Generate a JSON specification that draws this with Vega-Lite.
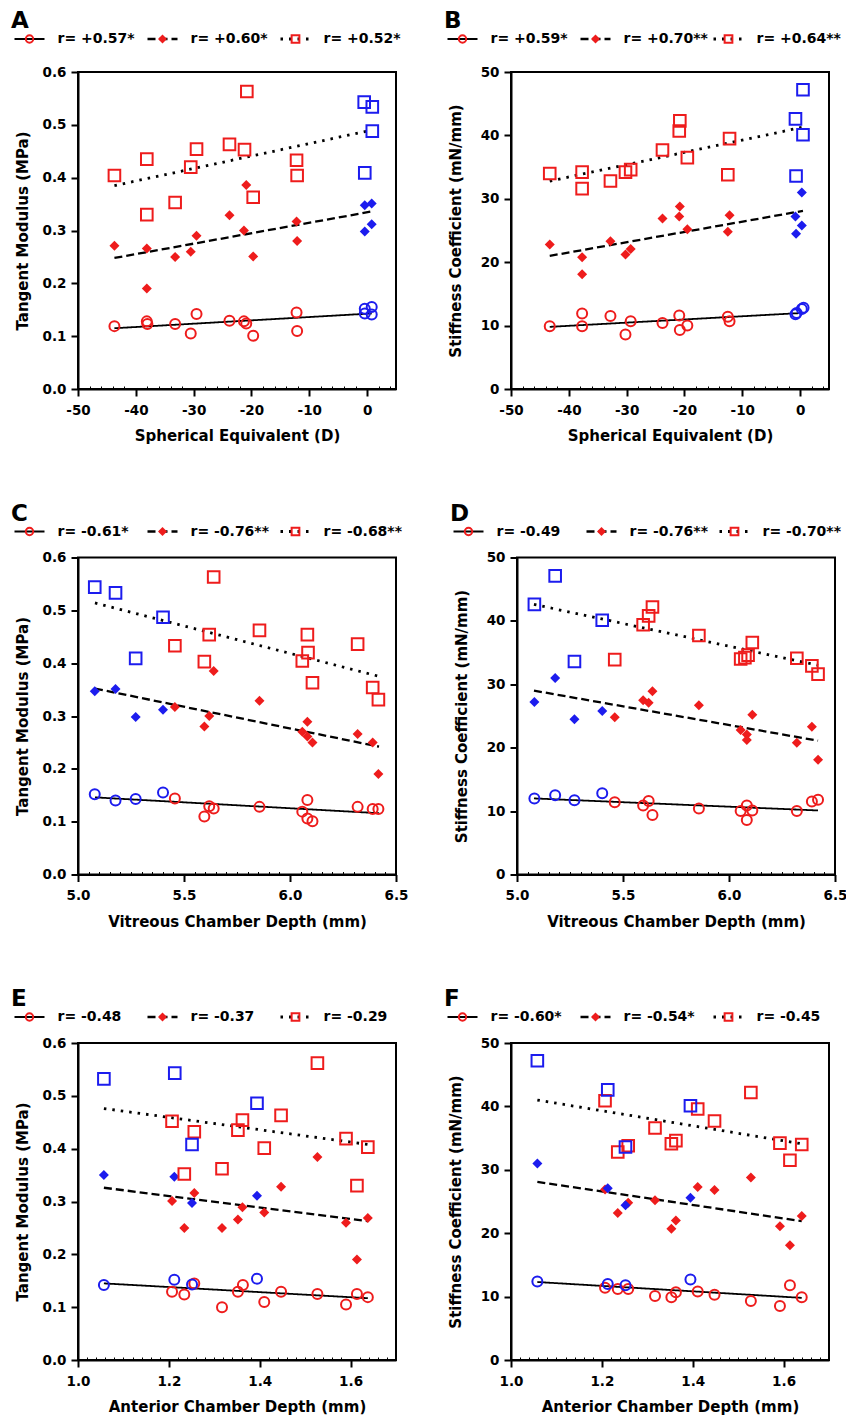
{
"$schema": "https://vega.github.io/schema/vega-lite/v6.json",
"background": "white",
"padding": {"left": 10, "top": 10, "right": 0, "bottom": 0},
"config": {
 "font": "DejaVu Sans",
 "view": {"stroke": "black", "strokeWidth": 2},
 "axis": {"domainColor": "black", "domainWidth": 2, "tickColor": "black", "tickWidth": 2, "tickSize": 7, "labelFont": "DejaVu Sans", "labelFontWeight": "bold", "labelFontSize": 13.5, "labelColor": "black", "labelPadding": 5, "titleFont": "DejaVu Sans", "titleFontWeight": "bold", "titleFontSize": 15, "titleColor": "black", "grid": false, "labelFlush": false, "labelOverlap": false},
 "axisX": {"labelPadding": 7, "titlePadding": 12},
 "title": {"font": "DejaVu Sans", "fontWeight": "bold", "fontSize": 23, "color": "black", "anchor": "start", "frame": "group"},
 "text": {"font": "DejaVu Sans", "fontWeight": "bold", "fontSize": 14, "color": "black"}
},
"datasets": {
"leg": [
 {"p":"A","s":"c","label":"r= +0.57*"},{"p":"A","s":"d","label":"r= +0.60*"},{"p":"A","s":"q","label":"r= +0.52*"},
 {"p":"B","s":"c","label":"r= +0.59*"},{"p":"B","s":"d","label":"r= +0.70**"},{"p":"B","s":"q","label":"r= +0.64**"},
 {"p":"C","s":"c","label":"r= -0.61*"},{"p":"C","s":"d","label":"r= -0.76**"},{"p":"C","s":"q","label":"r= -0.68**"},
 {"p":"D","s":"c","label":"r= -0.49"},{"p":"D","s":"d","label":"r= -0.76**"},{"p":"D","s":"q","label":"r= -0.70**"},
 {"p":"E","s":"c","label":"r= -0.48"},{"p":"E","s":"d","label":"r= -0.37"},{"p":"E","s":"q","label":"r= -0.29"},
 {"p":"F","s":"c","label":"r= -0.60*"},{"p":"F","s":"d","label":"r= -0.54*"},{"p":"F","s":"q","label":"r= -0.45"}
],
"lines": [
 {"p":"A","s":"c","x":-43.7,"y":0.115},{"p":"A","s":"c","x":0.8,"y":0.143},
 {"p":"A","s":"d","x":-43.7,"y":0.248},{"p":"A","s":"d","x":0.8,"y":0.336},
 {"p":"A","s":"q","x":-43.7,"y":0.385},{"p":"A","s":"q","x":0.8,"y":0.49},
 {"p":"B","s":"c","x":-43.3,"y":9.8},{"p":"B","s":"c","x":0.5,"y":12.0},
 {"p":"B","s":"d","x":-43.3,"y":21.0},{"p":"B","s":"d","x":0.5,"y":28.1},
 {"p":"B","s":"q","x":-43.3,"y":32.8},{"p":"B","s":"q","x":0.5,"y":41.3},
 {"p":"C","s":"c","x":5.08,"y":0.146},{"p":"C","s":"c","x":6.42,"y":0.116},
 {"p":"C","s":"d","x":5.08,"y":0.352},{"p":"C","s":"d","x":6.42,"y":0.242},
 {"p":"C","s":"q","x":5.08,"y":0.514},{"p":"C","s":"q","x":6.42,"y":0.375},
 {"p":"D","s":"c","x":5.08,"y":12.0},{"p":"D","s":"c","x":6.42,"y":10.1},
 {"p":"D","s":"d","x":5.08,"y":29.0},{"p":"D","s":"d","x":6.42,"y":21.1},
 {"p":"D","s":"q","x":5.08,"y":42.6},{"p":"D","s":"q","x":6.42,"y":33.0},
 {"p":"E","s":"c","x":1.057,"y":0.145},{"p":"E","s":"c","x":1.638,"y":0.117},
 {"p":"E","s":"d","x":1.057,"y":0.326},{"p":"E","s":"d","x":1.638,"y":0.263},
 {"p":"E","s":"q","x":1.057,"y":0.476},{"p":"E","s":"q","x":1.638,"y":0.408},
 {"p":"F","s":"c","x":1.058,"y":12.3},{"p":"F","s":"c","x":1.64,"y":9.8},
 {"p":"F","s":"d","x":1.058,"y":28.1},{"p":"F","s":"d","x":1.64,"y":21.9},
 {"p":"F","s":"q","x":1.058,"y":41.0},{"p":"F","s":"q","x":1.64,"y":34.1}
],
"pts": [
 {"p":"A","s":"c","g":"M","x":-43.7,"y":0.119},{"p":"A","s":"c","g":"M","x":-38.1,"y":0.128},{"p":"A","s":"c","g":"M","x":-38.0,"y":0.123},{"p":"A","s":"c","g":"M","x":-33.2,"y":0.123},{"p":"A","s":"c","g":"M","x":-30.5,"y":0.105},{"p":"A","s":"c","g":"M","x":-29.5,"y":0.142},{"p":"A","s":"c","g":"M","x":-23.8,"y":0.129},{"p":"A","s":"c","g":"M","x":-21.3,"y":0.128},{"p":"A","s":"c","g":"M","x":-20.9,"y":0.124},{"p":"A","s":"c","g":"M","x":-19.7,"y":0.101},{"p":"A","s":"c","g":"M","x":-12.2,"y":0.145},{"p":"A","s":"c","g":"M","x":-12.1,"y":0.110},
 {"p":"A","s":"c","g":"C","x":-0.4,"y":0.152},{"p":"A","s":"c","g":"C","x":0.8,"y":0.155},{"p":"A","s":"c","g":"C","x":-0.4,"y":0.143},{"p":"A","s":"c","g":"C","x":0.8,"y":0.141},
 {"p":"A","s":"d","g":"M","x":-43.7,"y":0.271},{"p":"A","s":"d","g":"M","x":-38.1,"y":0.266},{"p":"A","s":"d","g":"M","x":-38.1,"y":0.190},{"p":"A","s":"d","g":"M","x":-33.2,"y":0.250},{"p":"A","s":"d","g":"M","x":-30.5,"y":0.260},{"p":"A","s":"d","g":"M","x":-29.5,"y":0.290},{"p":"A","s":"d","g":"M","x":-23.8,"y":0.329},{"p":"A","s":"d","g":"M","x":-21.3,"y":0.300},{"p":"A","s":"d","g":"M","x":-20.9,"y":0.386},{"p":"A","s":"d","g":"M","x":-19.7,"y":0.251},{"p":"A","s":"d","g":"M","x":-12.2,"y":0.317},{"p":"A","s":"d","g":"M","x":-12.1,"y":0.280},
 {"p":"A","s":"d","g":"C","x":-0.4,"y":0.348},{"p":"A","s":"d","g":"C","x":0.8,"y":0.351},{"p":"A","s":"d","g":"C","x":-0.4,"y":0.298},{"p":"A","s":"d","g":"C","x":0.8,"y":0.312},
 {"p":"A","s":"q","g":"M","x":-43.7,"y":0.404},{"p":"A","s":"q","g":"M","x":-38.1,"y":0.435},{"p":"A","s":"q","g":"M","x":-38.1,"y":0.330},{"p":"A","s":"q","g":"M","x":-33.2,"y":0.353},{"p":"A","s":"q","g":"M","x":-30.5,"y":0.420},{"p":"A","s":"q","g":"M","x":-29.5,"y":0.454},{"p":"A","s":"q","g":"M","x":-23.8,"y":0.463},{"p":"A","s":"q","g":"M","x":-21.2,"y":0.453},{"p":"A","s":"q","g":"M","x":-20.8,"y":0.563},{"p":"A","s":"q","g":"M","x":-19.7,"y":0.363},{"p":"A","s":"q","g":"M","x":-12.2,"y":0.433},{"p":"A","s":"q","g":"M","x":-12.1,"y":0.404},
 {"p":"A","s":"q","g":"C","x":-0.5,"y":0.543},{"p":"A","s":"q","g":"C","x":0.9,"y":0.534},{"p":"A","s":"q","g":"C","x":0.9,"y":0.488},{"p":"A","s":"q","g":"C","x":-0.4,"y":0.409},

 {"p":"B","s":"c","g":"M","x":-43.3,"y":9.9},{"p":"B","s":"c","g":"M","x":-37.7,"y":11.9},{"p":"B","s":"c","g":"M","x":-37.7,"y":9.9},{"p":"B","s":"c","g":"M","x":-32.8,"y":11.5},{"p":"B","s":"c","g":"M","x":-30.2,"y":8.6},{"p":"B","s":"c","g":"M","x":-29.3,"y":10.7},{"p":"B","s":"c","g":"M","x":-23.8,"y":10.4},{"p":"B","s":"c","g":"M","x":-20.9,"y":11.6},{"p":"B","s":"c","g":"M","x":-20.8,"y":9.3},{"p":"B","s":"c","g":"M","x":-19.5,"y":10.0},{"p":"B","s":"c","g":"M","x":-12.5,"y":11.4},{"p":"B","s":"c","g":"M","x":-12.2,"y":10.7},
 {"p":"B","s":"c","g":"C","x":-0.8,"y":11.8},{"p":"B","s":"c","g":"C","x":-0.6,"y":12.0},{"p":"B","s":"c","g":"C","x":0.3,"y":12.6},{"p":"B","s":"c","g":"C","x":0.6,"y":12.8},
 {"p":"B","s":"d","g":"M","x":-43.3,"y":22.8},{"p":"B","s":"d","g":"M","x":-37.7,"y":20.8},{"p":"B","s":"d","g":"M","x":-37.7,"y":18.1},{"p":"B","s":"d","g":"M","x":-32.8,"y":23.3},{"p":"B","s":"d","g":"M","x":-30.2,"y":21.2},{"p":"B","s":"d","g":"M","x":-29.3,"y":22.1},{"p":"B","s":"d","g":"M","x":-23.8,"y":26.9},{"p":"B","s":"d","g":"M","x":-20.9,"y":27.2},{"p":"B","s":"d","g":"M","x":-20.8,"y":28.8},{"p":"B","s":"d","g":"M","x":-19.5,"y":25.2},{"p":"B","s":"d","g":"M","x":-12.2,"y":27.4},{"p":"B","s":"d","g":"M","x":-12.5,"y":24.8},
 {"p":"B","s":"d","g":"C","x":-0.8,"y":27.2},{"p":"B","s":"d","g":"C","x":-0.7,"y":24.5},{"p":"B","s":"d","g":"C","x":0.3,"y":25.8},{"p":"B","s":"d","g":"C","x":0.3,"y":31.0},
 {"p":"B","s":"q","g":"M","x":-43.3,"y":34.0},{"p":"B","s":"q","g":"M","x":-37.7,"y":34.2},{"p":"B","s":"q","g":"M","x":-37.7,"y":31.6},{"p":"B","s":"q","g":"M","x":-32.8,"y":32.8},{"p":"B","s":"q","g":"M","x":-30.2,"y":34.2},{"p":"B","s":"q","g":"M","x":-29.3,"y":34.6},{"p":"B","s":"q","g":"M","x":-23.8,"y":37.7},{"p":"B","s":"q","g":"M","x":-20.9,"y":40.7},{"p":"B","s":"q","g":"M","x":-20.8,"y":42.3},{"p":"B","s":"q","g":"M","x":-19.5,"y":36.5},{"p":"B","s":"q","g":"M","x":-12.2,"y":39.5},{"p":"B","s":"q","g":"M","x":-12.5,"y":33.8},
 {"p":"B","s":"q","g":"C","x":-0.8,"y":42.6},{"p":"B","s":"q","g":"C","x":0.5,"y":47.2},{"p":"B","s":"q","g":"C","x":0.5,"y":40.1},{"p":"B","s":"q","g":"C","x":-0.7,"y":33.6},

 {"p":"C","s":"c","g":"M","x":5.457,"y":0.144},{"p":"C","s":"c","g":"M","x":5.596,"y":0.110},{"p":"C","s":"c","g":"M","x":5.619,"y":0.129},{"p":"C","s":"c","g":"M","x":5.640,"y":0.125},{"p":"C","s":"c","g":"M","x":5.856,"y":0.128},{"p":"C","s":"c","g":"M","x":6.058,"y":0.119},{"p":"C","s":"c","g":"M","x":6.082,"y":0.141},{"p":"C","s":"c","g":"M","x":6.082,"y":0.106},{"p":"C","s":"c","g":"M","x":6.106,"y":0.101},{"p":"C","s":"c","g":"M","x":6.319,"y":0.128},{"p":"C","s":"c","g":"M","x":6.390,"y":0.124},{"p":"C","s":"c","g":"M","x":6.417,"y":0.124},
 {"p":"C","s":"c","g":"C","x":5.079,"y":0.152},{"p":"C","s":"c","g":"C","x":5.177,"y":0.140},{"p":"C","s":"c","g":"C","x":5.272,"y":0.143},{"p":"C","s":"c","g":"C","x":5.401,"y":0.155},
 {"p":"C","s":"d","g":"M","x":5.457,"y":0.317},{"p":"C","s":"d","g":"M","x":5.596,"y":0.280},{"p":"C","s":"d","g":"M","x":5.619,"y":0.300},{"p":"C","s":"d","g":"M","x":5.640,"y":0.385},{"p":"C","s":"d","g":"M","x":5.856,"y":0.329},{"p":"C","s":"d","g":"M","x":6.058,"y":0.270},{"p":"C","s":"d","g":"M","x":6.082,"y":0.289},{"p":"C","s":"d","g":"M","x":6.082,"y":0.261},{"p":"C","s":"d","g":"M","x":6.106,"y":0.250},{"p":"C","s":"d","g":"M","x":6.319,"y":0.266},{"p":"C","s":"d","g":"M","x":6.390,"y":0.250},{"p":"C","s":"d","g":"M","x":6.417,"y":0.190},
 {"p":"C","s":"d","g":"C","x":5.079,"y":0.347},{"p":"C","s":"d","g":"C","x":5.177,"y":0.351},{"p":"C","s":"d","g":"C","x":5.272,"y":0.298},{"p":"C","s":"d","g":"C","x":5.401,"y":0.312},
 {"p":"C","s":"q","g":"M","x":5.457,"y":0.433},{"p":"C","s":"q","g":"M","x":5.596,"y":0.403},{"p":"C","s":"q","g":"M","x":5.619,"y":0.454},{"p":"C","s":"q","g":"M","x":5.640,"y":0.563},{"p":"C","s":"q","g":"M","x":5.856,"y":0.462},{"p":"C","s":"q","g":"M","x":6.058,"y":0.404},{"p":"C","s":"q","g":"M","x":6.082,"y":0.454},{"p":"C","s":"q","g":"M","x":6.085,"y":0.420},{"p":"C","s":"q","g":"M","x":6.106,"y":0.363},{"p":"C","s":"q","g":"M","x":6.319,"y":0.436},{"p":"C","s":"q","g":"M","x":6.390,"y":0.354},{"p":"C","s":"q","g":"M","x":6.417,"y":0.331},
 {"p":"C","s":"q","g":"C","x":5.079,"y":0.544},{"p":"C","s":"q","g":"C","x":5.177,"y":0.533},{"p":"C","s":"q","g":"C","x":5.272,"y":0.409},{"p":"C","s":"q","g":"C","x":5.401,"y":0.487},

 {"p":"D","s":"c","g":"M","x":5.461,"y":11.4},{"p":"D","s":"c","g":"M","x":5.595,"y":10.9},{"p":"D","s":"c","g":"M","x":5.621,"y":11.6},{"p":"D","s":"c","g":"M","x":5.639,"y":9.4},{"p":"D","s":"c","g":"M","x":5.858,"y":10.4},{"p":"D","s":"c","g":"M","x":6.055,"y":10.0},{"p":"D","s":"c","g":"M","x":6.084,"y":10.9},{"p":"D","s":"c","g":"M","x":6.084,"y":8.6},{"p":"D","s":"c","g":"M","x":6.110,"y":10.1},{"p":"D","s":"c","g":"M","x":6.320,"y":10.0},{"p":"D","s":"c","g":"M","x":6.391,"y":11.5},{"p":"D","s":"c","g":"M","x":6.420,"y":11.8},
 {"p":"D","s":"c","g":"C","x":5.082,"y":12.0},{"p":"D","s":"c","g":"C","x":5.180,"y":12.5},{"p":"D","s":"c","g":"C","x":5.271,"y":11.7},{"p":"D","s":"c","g":"C","x":5.402,"y":12.8},
 {"p":"D","s":"d","g":"M","x":5.461,"y":24.8},{"p":"D","s":"d","g":"M","x":5.595,"y":27.5},{"p":"D","s":"d","g":"M","x":5.621,"y":27.1},{"p":"D","s":"d","g":"M","x":5.639,"y":28.9},{"p":"D","s":"d","g":"M","x":5.858,"y":26.7},{"p":"D","s":"d","g":"M","x":6.055,"y":22.8},{"p":"D","s":"d","g":"M","x":6.084,"y":22.1},{"p":"D","s":"d","g":"M","x":6.084,"y":21.2},{"p":"D","s":"d","g":"M","x":6.110,"y":25.2},{"p":"D","s":"d","g":"M","x":6.320,"y":20.8},{"p":"D","s":"d","g":"M","x":6.391,"y":23.3},{"p":"D","s":"d","g":"M","x":6.420,"y":18.1},
 {"p":"D","s":"d","g":"C","x":5.082,"y":27.2},{"p":"D","s":"d","g":"C","x":5.180,"y":31.0},{"p":"D","s":"d","g":"C","x":5.271,"y":24.5},{"p":"D","s":"d","g":"C","x":5.402,"y":25.8},
 {"p":"D","s":"q","g":"M","x":5.461,"y":33.9},{"p":"D","s":"q","g":"M","x":5.595,"y":39.4},{"p":"D","s":"q","g":"M","x":5.621,"y":40.8},{"p":"D","s":"q","g":"M","x":5.639,"y":42.2},{"p":"D","s":"q","g":"M","x":5.858,"y":37.7},{"p":"D","s":"q","g":"M","x":6.055,"y":34.0},{"p":"D","s":"q","g":"M","x":6.075,"y":34.2},{"p":"D","s":"q","g":"M","x":6.090,"y":34.6},{"p":"D","s":"q","g":"M","x":6.110,"y":36.6},{"p":"D","s":"q","g":"M","x":6.320,"y":34.1},{"p":"D","s":"q","g":"M","x":6.391,"y":32.9},{"p":"D","s":"q","g":"M","x":6.420,"y":31.6},
 {"p":"D","s":"q","g":"C","x":5.082,"y":42.6},{"p":"D","s":"q","g":"C","x":5.180,"y":47.1},{"p":"D","s":"q","g":"C","x":5.271,"y":33.6},{"p":"D","s":"q","g":"C","x":5.402,"y":40.1},

 {"p":"E","s":"c","g":"M","x":1.207,"y":0.129},{"p":"E","s":"c","g":"M","x":1.234,"y":0.124},{"p":"E","s":"c","g":"M","x":1.256,"y":0.145},{"p":"E","s":"c","g":"M","x":1.317,"y":0.100},{"p":"E","s":"c","g":"M","x":1.352,"y":0.129},{"p":"E","s":"c","g":"M","x":1.363,"y":0.142},{"p":"E","s":"c","g":"M","x":1.410,"y":0.110},{"p":"E","s":"c","g":"M","x":1.447,"y":0.129},{"p":"E","s":"c","g":"M","x":1.527,"y":0.125},{"p":"E","s":"c","g":"M","x":1.590,"y":0.105},{"p":"E","s":"c","g":"M","x":1.614,"y":0.125},{"p":"E","s":"c","g":"M","x":1.638,"y":0.119},
 {"p":"E","s":"c","g":"C","x":1.057,"y":0.142},{"p":"E","s":"c","g":"C","x":1.212,"y":0.152},{"p":"E","s":"c","g":"C","x":1.251,"y":0.143},{"p":"E","s":"c","g":"C","x":1.394,"y":0.154},
 {"p":"E","s":"d","g":"M","x":1.207,"y":0.301},{"p":"E","s":"d","g":"M","x":1.234,"y":0.250},{"p":"E","s":"d","g":"M","x":1.256,"y":0.316},{"p":"E","s":"d","g":"M","x":1.317,"y":0.250},{"p":"E","s":"d","g":"M","x":1.352,"y":0.266},{"p":"E","s":"d","g":"M","x":1.362,"y":0.289},{"p":"E","s":"d","g":"M","x":1.410,"y":0.279},{"p":"E","s":"d","g":"M","x":1.447,"y":0.328},{"p":"E","s":"d","g":"M","x":1.527,"y":0.384},{"p":"E","s":"d","g":"M","x":1.590,"y":0.260},{"p":"E","s":"d","g":"M","x":1.614,"y":0.190},{"p":"E","s":"d","g":"M","x":1.638,"y":0.269},
 {"p":"E","s":"d","g":"C","x":1.057,"y":0.350},{"p":"E","s":"d","g":"C","x":1.212,"y":0.347},{"p":"E","s":"d","g":"C","x":1.251,"y":0.297},{"p":"E","s":"d","g":"C","x":1.394,"y":0.311},
 {"p":"E","s":"q","g":"M","x":1.207,"y":0.452},{"p":"E","s":"q","g":"M","x":1.234,"y":0.352},{"p":"E","s":"q","g":"M","x":1.256,"y":0.432},{"p":"E","s":"q","g":"M","x":1.317,"y":0.362},{"p":"E","s":"q","g":"M","x":1.352,"y":0.435},{"p":"E","s":"q","g":"M","x":1.362,"y":0.454},{"p":"E","s":"q","g":"M","x":1.410,"y":0.401},{"p":"E","s":"q","g":"M","x":1.447,"y":0.463},{"p":"E","s":"q","g":"M","x":1.527,"y":0.562},{"p":"E","s":"q","g":"M","x":1.590,"y":0.419},{"p":"E","s":"q","g":"M","x":1.614,"y":0.330},{"p":"E","s":"q","g":"M","x":1.638,"y":0.403},
 {"p":"E","s":"q","g":"C","x":1.057,"y":0.532},{"p":"E","s":"q","g":"C","x":1.213,"y":0.543},{"p":"E","s":"q","g":"C","x":1.251,"y":0.408},{"p":"E","s":"q","g":"C","x":1.394,"y":0.486},

 {"p":"F","s":"c","g":"M","x":1.207,"y":11.4},{"p":"F","s":"c","g":"M","x":1.235,"y":11.2},{"p":"F","s":"c","g":"M","x":1.258,"y":11.2},{"p":"F","s":"c","g":"M","x":1.317,"y":10.1},{"p":"F","s":"c","g":"M","x":1.353,"y":9.9},{"p":"F","s":"c","g":"M","x":1.363,"y":10.7},{"p":"F","s":"c","g":"M","x":1.411,"y":10.8},{"p":"F","s":"c","g":"M","x":1.448,"y":10.3},{"p":"F","s":"c","g":"M","x":1.528,"y":9.3},{"p":"F","s":"c","g":"M","x":1.592,"y":8.5},{"p":"F","s":"c","g":"M","x":1.614,"y":11.8},{"p":"F","s":"c","g":"M","x":1.640,"y":9.9},
 {"p":"F","s":"c","g":"C","x":1.058,"y":12.4},{"p":"F","s":"c","g":"C","x":1.213,"y":12.0},{"p":"F","s":"c","g":"C","x":1.252,"y":11.8},{"p":"F","s":"c","g":"C","x":1.395,"y":12.7},
 {"p":"F","s":"d","g":"M","x":1.207,"y":26.9},{"p":"F","s":"d","g":"M","x":1.235,"y":23.2},{"p":"F","s":"d","g":"M","x":1.258,"y":24.8},{"p":"F","s":"d","g":"M","x":1.317,"y":25.2},{"p":"F","s":"d","g":"M","x":1.353,"y":20.7},{"p":"F","s":"d","g":"M","x":1.363,"y":22.0},{"p":"F","s":"d","g":"M","x":1.411,"y":27.3},{"p":"F","s":"d","g":"M","x":1.448,"y":26.8},{"p":"F","s":"d","g":"M","x":1.528,"y":28.8},{"p":"F","s":"d","g":"M","x":1.592,"y":21.1},{"p":"F","s":"d","g":"M","x":1.614,"y":18.1},{"p":"F","s":"d","g":"M","x":1.640,"y":22.7},
 {"p":"F","s":"d","g":"C","x":1.058,"y":31.0},{"p":"F","s":"d","g":"C","x":1.213,"y":27.1},{"p":"F","s":"d","g":"C","x":1.252,"y":24.4},{"p":"F","s":"d","g":"C","x":1.395,"y":25.6},
 {"p":"F","s":"q","g":"M","x":1.207,"y":40.9},{"p":"F","s":"q","g":"M","x":1.235,"y":32.8},{"p":"F","s":"q","g":"M","x":1.258,"y":33.8},{"p":"F","s":"q","g":"M","x":1.317,"y":36.6},{"p":"F","s":"q","g":"M","x":1.353,"y":34.1},{"p":"F","s":"q","g":"M","x":1.363,"y":34.6},{"p":"F","s":"q","g":"M","x":1.411,"y":39.6},{"p":"F","s":"q","g":"M","x":1.448,"y":37.7},{"p":"F","s":"q","g":"M","x":1.528,"y":42.2},{"p":"F","s":"q","g":"M","x":1.592,"y":34.2},{"p":"F","s":"q","g":"M","x":1.614,"y":31.5},{"p":"F","s":"q","g":"M","x":1.640,"y":34.0},
 {"p":"F","s":"q","g":"C","x":1.058,"y":47.2},{"p":"F","s":"q","g":"C","x":1.213,"y":42.6},{"p":"F","s":"q","g":"C","x":1.252,"y":33.6},{"p":"F","s":"q","g":"C","x":1.395,"y":40.1}
]
},
"spacing": 57.5,
"vconcat": [
{"spacing": 42, "hconcat": [
 {"spacing": 16, "vconcat": [
  {"width": 318, "height": 18, "view": {"stroke": null}, "title": {"text": "A", "dx": -67, "offset": -3},
   "data": {"name": "leg"}, "transform": [{"filter": "datum.p === 'A'"}],
   "encoding": {"x": {"field": "s", "type": "nominal", "scale": {"type": "band", "domain": ["c","d","q"], "range": [-115, 284], "paddingInner": 0, "paddingOuter": 0}, "axis": null}},
   "layer": [
    {"mark": {"type": "point", "shape": "M-1,0L1,0", "size": 900, "filled": false, "color": "black", "opacity": 1}, "encoding": {"strokeDash": {"field": "s", "type": "nominal", "scale": {"domain": ["c","d","q"], "range": [[1,0],[8,4],[2.5,6]]}, "legend": null}, "strokeWidth": {"field": "s", "type": "nominal", "scale": {"domain": ["c","d","q"], "range": [1.8,2.8,2.4]}, "legend": null}}},
    {"transform": [{"filter": "datum.s === 'c'"}], "mark": {"type": "point", "shape": "circle", "filled": false, "color": "#EE1C1C", "strokeWidth": 2, "size": 55, "opacity": 1}},
    {"transform": [{"filter": "datum.s === 'd'"}], "mark": {"type": "point", "shape": "diamond", "filled": true, "color": "#EE1C1C", "size": 80, "opacity": 1}},
    {"transform": [{"filter": "datum.s === 'q'"}], "mark": {"type": "point", "shape": "square", "filled": false, "color": "#EE1C1C", "strokeWidth": 2, "size": 60, "opacity": 1}},
    {"mark": {"type": "text", "align": "left", "dx": 28}, "encoding": {"text": {"field": "label"}}}
   ]},
  {"width": 318, "height": 317,
   "encoding": {
    "x": {"field": "x", "type": "quantitative", "scale": {"domain": [-50, 5], "nice": false, "zero": false}, "axis": {"title": "Spherical Equivalent (D)", "values": [-50,-48,-46,-44,-42,-40,-38,-36,-34,-32,-30,-28,-26,-24,-22,-20,-18,-16,-14,-12,-10,-8,-6,-4,-2,0,2,4], "labelExpr": "datum.value % 10 === 0 ? '' + datum.value : ''", "tickSize": {"condition": {"test": "datum.value % 10 === 0", "value": 7}, "value": -3}, "tickWidth": {"condition": {"test": "datum.value % 10 === 0", "value": 2}, "value": 1}}},
    "y": {"field": "y", "type": "quantitative", "scale": {"domain": [0, 0.6], "nice": false}, "axis": {"title": "Tangent Modulus  (MPa)", "values": [0,0.1,0.2,0.3,0.4,0.5,0.6], "format": ".1f", "titlePadding": 12}}
   },
   "layer": [
    {"data": {"name": "lines"}, "transform": [{"filter": "datum.p === 'A'"}], "mark": {"type": "line", "color": "black"}, "encoding": {"strokeDash": {"field": "s", "type": "nominal", "scale": {"domain": ["c","d","q"], "range": [[1,0],[8,4],[2.5,6]]}, "legend": null}, "strokeWidth": {"field": "s", "type": "nominal", "scale": {"domain": ["c","d","q"], "range": [1.8,2.8,2.4]}, "legend": null}}},
    {"data": {"name": "pts"}, "transform": [{"filter": "datum.p === 'A' && datum.s === 'c'"}], "mark": {"type": "point", "shape": "circle", "filled": false, "strokeWidth": 2, "size": 100, "opacity": 1}, "encoding": {"color": {"field": "g", "type": "nominal", "scale": {"domain": ["M","C"], "range": ["#EE1C1C","#1C1CEE"]}, "legend": null}}},
    {"data": {"name": "pts"}, "transform": [{"filter": "datum.p === 'A' && datum.s === 'd'"}], "mark": {"type": "point", "shape": "diamond", "filled": true, "size": 100, "opacity": 1}, "encoding": {"color": {"field": "g", "type": "nominal", "scale": {"domain": ["M","C"], "range": ["#EE1C1C","#1C1CEE"]}, "legend": null}}},
    {"data": {"name": "pts"}, "transform": [{"filter": "datum.p === 'A' && datum.s === 'q'"}], "mark": {"type": "point", "shape": "square", "filled": false, "strokeWidth": 2, "size": 135, "opacity": 1}, "encoding": {"color": {"field": "g", "type": "nominal", "scale": {"domain": ["M","C"], "range": ["#EE1C1C","#1C1CEE"]}, "legend": null}}}
   ]}
 ]},
 {"spacing": 16, "vconcat": [
  {"width": 318, "height": 18, "view": {"stroke": null}, "title": {"text": "B", "dx": -67, "offset": -3},
   "data": {"name": "leg"}, "transform": [{"filter": "datum.p === 'B'"}],
   "encoding": {"x": {"field": "s", "type": "nominal", "scale": {"type": "band", "domain": ["c","d","q"], "range": [-115, 284], "paddingInner": 0, "paddingOuter": 0}, "axis": null}},
   "layer": [
    {"mark": {"type": "point", "shape": "M-1,0L1,0", "size": 900, "filled": false, "color": "black", "opacity": 1}, "encoding": {"strokeDash": {"field": "s", "type": "nominal", "scale": {"domain": ["c","d","q"], "range": [[1,0],[8,4],[2.5,6]]}, "legend": null}, "strokeWidth": {"field": "s", "type": "nominal", "scale": {"domain": ["c","d","q"], "range": [1.8,2.8,2.4]}, "legend": null}}},
    {"transform": [{"filter": "datum.s === 'c'"}], "mark": {"type": "point", "shape": "circle", "filled": false, "color": "#EE1C1C", "strokeWidth": 2, "size": 55, "opacity": 1}},
    {"transform": [{"filter": "datum.s === 'd'"}], "mark": {"type": "point", "shape": "diamond", "filled": true, "color": "#EE1C1C", "size": 80, "opacity": 1}},
    {"transform": [{"filter": "datum.s === 'q'"}], "mark": {"type": "point", "shape": "square", "filled": false, "color": "#EE1C1C", "strokeWidth": 2, "size": 60, "opacity": 1}},
    {"mark": {"type": "text", "align": "left", "dx": 28}, "encoding": {"text": {"field": "label"}}}
   ]},
  {"width": 318, "height": 317,
   "encoding": {
    "x": {"field": "x", "type": "quantitative", "scale": {"domain": [-50, 5], "nice": false, "zero": false}, "axis": {"title": "Spherical Equivalent (D)", "values": [-50,-48,-46,-44,-42,-40,-38,-36,-34,-32,-30,-28,-26,-24,-22,-20,-18,-16,-14,-12,-10,-8,-6,-4,-2,0,2,4], "labelExpr": "datum.value % 10 === 0 ? '' + datum.value : ''", "tickSize": {"condition": {"test": "datum.value % 10 === 0", "value": 7}, "value": -3}, "tickWidth": {"condition": {"test": "datum.value % 10 === 0", "value": 2}, "value": 1}}},
    "y": {"field": "y", "type": "quantitative", "scale": {"domain": [0, 50], "nice": false}, "axis": {"title": "Stiffness Coefficient (mN/mm)", "values": [0,10,20,30,40,50], "titlePadding": 17}}
   },
   "layer": [
    {"data": {"name": "lines"}, "transform": [{"filter": "datum.p === 'B'"}], "mark": {"type": "line", "color": "black"}, "encoding": {"strokeDash": {"field": "s", "type": "nominal", "scale": {"domain": ["c","d","q"], "range": [[1,0],[8,4],[2.5,6]]}, "legend": null}, "strokeWidth": {"field": "s", "type": "nominal", "scale": {"domain": ["c","d","q"], "range": [1.8,2.8,2.4]}, "legend": null}}},
    {"data": {"name": "pts"}, "transform": [{"filter": "datum.p === 'B' && datum.s === 'c'"}], "mark": {"type": "point", "shape": "circle", "filled": false, "strokeWidth": 2, "size": 100, "opacity": 1}, "encoding": {"color": {"field": "g", "type": "nominal", "scale": {"domain": ["M","C"], "range": ["#EE1C1C","#1C1CEE"]}, "legend": null}}},
    {"data": {"name": "pts"}, "transform": [{"filter": "datum.p === 'B' && datum.s === 'd'"}], "mark": {"type": "point", "shape": "diamond", "filled": true, "size": 100, "opacity": 1}, "encoding": {"color": {"field": "g", "type": "nominal", "scale": {"domain": ["M","C"], "range": ["#EE1C1C","#1C1CEE"]}, "legend": null}}},
    {"data": {"name": "pts"}, "transform": [{"filter": "datum.p === 'B' && datum.s === 'q'"}], "mark": {"type": "point", "shape": "square", "filled": false, "strokeWidth": 2, "size": 135, "opacity": 1}, "encoding": {"color": {"field": "g", "type": "nominal", "scale": {"domain": ["M","C"], "range": ["#EE1C1C","#1C1CEE"]}, "legend": null}}}
   ]}
 ]}
]},
{"spacing": 40, "hconcat": [
 {"spacing": 9, "vconcat": [
  {"width": 318, "height": 18, "view": {"stroke": null}, "title": {"text": "C", "dx": -67, "offset": -3},
   "data": {"name": "leg"}, "transform": [{"filter": "datum.p === 'C'"}],
   "encoding": {"x": {"field": "s", "type": "nominal", "scale": {"type": "band", "domain": ["c","d","q"], "range": [-115, 284], "paddingInner": 0, "paddingOuter": 0}, "axis": null}},
   "layer": [
    {"mark": {"type": "point", "shape": "M-1,0L1,0", "size": 900, "filled": false, "color": "black", "opacity": 1}, "encoding": {"strokeDash": {"field": "s", "type": "nominal", "scale": {"domain": ["c","d","q"], "range": [[1,0],[8,4],[2.5,6]]}, "legend": null}, "strokeWidth": {"field": "s", "type": "nominal", "scale": {"domain": ["c","d","q"], "range": [1.8,2.8,2.4]}, "legend": null}}},
    {"transform": [{"filter": "datum.s === 'c'"}], "mark": {"type": "point", "shape": "circle", "filled": false, "color": "#EE1C1C", "strokeWidth": 2, "size": 55, "opacity": 1}},
    {"transform": [{"filter": "datum.s === 'd'"}], "mark": {"type": "point", "shape": "diamond", "filled": true, "color": "#EE1C1C", "size": 80, "opacity": 1}},
    {"transform": [{"filter": "datum.s === 'q'"}], "mark": {"type": "point", "shape": "square", "filled": false, "color": "#EE1C1C", "strokeWidth": 2, "size": 60, "opacity": 1}},
    {"mark": {"type": "text", "align": "left", "dx": 28}, "encoding": {"text": {"field": "label"}}}
   ]},
  {"width": 318, "height": 317,
   "encoding": {
    "x": {"field": "x", "type": "quantitative", "scale": {"domain": [5, 6.5], "nice": false, "zero": false}, "axis": {"title": "Vitreous Chamber Depth (mm)", "values": [5,5.05,5.1,5.15,5.2,5.25,5.3,5.35,5.4,5.45,5.5,5.55,5.6,5.65,5.7,5.75,5.8,5.85,5.9,5.95,6,6.05,6.1,6.15,6.2,6.25,6.3,6.35,6.4,6.45,6.5], "labelExpr": "abs(datum.value*2 - round(datum.value*2)) < 0.001 ? format(datum.value, '.1f') : ''", "tickSize": {"condition": {"test": "abs(datum.value*2 - round(datum.value*2)) < 0.001", "value": 7}, "value": -3}, "tickWidth": {"condition": {"test": "abs(datum.value*2 - round(datum.value*2)) < 0.001", "value": 2}, "value": 1}}},
    "y": {"field": "y", "type": "quantitative", "scale": {"domain": [0, 0.6], "nice": false}, "axis": {"title": "Tangent Modulus  (MPa)", "values": [0,0.1,0.2,0.3,0.4,0.5,0.6], "format": ".1f", "titlePadding": 12}}
   },
   "layer": [
    {"data": {"name": "lines"}, "transform": [{"filter": "datum.p === 'C'"}], "mark": {"type": "line", "color": "black"}, "encoding": {"strokeDash": {"field": "s", "type": "nominal", "scale": {"domain": ["c","d","q"], "range": [[1,0],[8,4],[2.5,6]]}, "legend": null}, "strokeWidth": {"field": "s", "type": "nominal", "scale": {"domain": ["c","d","q"], "range": [1.8,2.8,2.4]}, "legend": null}}},
    {"data": {"name": "pts"}, "transform": [{"filter": "datum.p === 'C' && datum.s === 'c'"}], "mark": {"type": "point", "shape": "circle", "filled": false, "strokeWidth": 2, "size": 100, "opacity": 1}, "encoding": {"color": {"field": "g", "type": "nominal", "scale": {"domain": ["M","C"], "range": ["#EE1C1C","#1C1CEE"]}, "legend": null}}},
    {"data": {"name": "pts"}, "transform": [{"filter": "datum.p === 'C' && datum.s === 'd'"}], "mark": {"type": "point", "shape": "diamond", "filled": true, "size": 100, "opacity": 1}, "encoding": {"color": {"field": "g", "type": "nominal", "scale": {"domain": ["M","C"], "range": ["#EE1C1C","#1C1CEE"]}, "legend": null}}},
    {"data": {"name": "pts"}, "transform": [{"filter": "datum.p === 'C' && datum.s === 'q'"}], "mark": {"type": "point", "shape": "square", "filled": false, "strokeWidth": 2, "size": 135, "opacity": 1}, "encoding": {"color": {"field": "g", "type": "nominal", "scale": {"domain": ["M","C"], "range": ["#EE1C1C","#1C1CEE"]}, "legend": null}}}
   ]}
 ]},
 {"spacing": 9, "vconcat": [
  {"width": 318, "height": 18, "view": {"stroke": null}, "title": {"text": "D", "dx": -67, "offset": -3},
   "data": {"name": "leg"}, "transform": [{"filter": "datum.p === 'D'"}],
   "encoding": {"x": {"field": "s", "type": "nominal", "scale": {"type": "band", "domain": ["c","d","q"], "range": [-115, 284], "paddingInner": 0, "paddingOuter": 0}, "axis": null}},
   "layer": [
    {"mark": {"type": "point", "shape": "M-1,0L1,0", "size": 900, "filled": false, "color": "black", "opacity": 1}, "encoding": {"strokeDash": {"field": "s", "type": "nominal", "scale": {"domain": ["c","d","q"], "range": [[1,0],[8,4],[2.5,6]]}, "legend": null}, "strokeWidth": {"field": "s", "type": "nominal", "scale": {"domain": ["c","d","q"], "range": [1.8,2.8,2.4]}, "legend": null}}},
    {"transform": [{"filter": "datum.s === 'c'"}], "mark": {"type": "point", "shape": "circle", "filled": false, "color": "#EE1C1C", "strokeWidth": 2, "size": 55, "opacity": 1}},
    {"transform": [{"filter": "datum.s === 'd'"}], "mark": {"type": "point", "shape": "diamond", "filled": true, "color": "#EE1C1C", "size": 80, "opacity": 1}},
    {"transform": [{"filter": "datum.s === 'q'"}], "mark": {"type": "point", "shape": "square", "filled": false, "color": "#EE1C1C", "strokeWidth": 2, "size": 60, "opacity": 1}},
    {"mark": {"type": "text", "align": "left", "dx": 28}, "encoding": {"text": {"field": "label"}}}
   ]},
  {"width": 318, "height": 317,
   "encoding": {
    "x": {"field": "x", "type": "quantitative", "scale": {"domain": [5, 6.5], "nice": false, "zero": false}, "axis": {"title": "Vitreous Chamber Depth (mm)", "values": [5,5.05,5.1,5.15,5.2,5.25,5.3,5.35,5.4,5.45,5.5,5.55,5.6,5.65,5.7,5.75,5.8,5.85,5.9,5.95,6,6.05,6.1,6.15,6.2,6.25,6.3,6.35,6.4,6.45,6.5], "labelExpr": "abs(datum.value*2 - round(datum.value*2)) < 0.001 ? format(datum.value, '.1f') : ''", "tickSize": {"condition": {"test": "abs(datum.value*2 - round(datum.value*2)) < 0.001", "value": 7}, "value": -3}, "tickWidth": {"condition": {"test": "abs(datum.value*2 - round(datum.value*2)) < 0.001", "value": 2}, "value": 1}}},
    "y": {"field": "y", "type": "quantitative", "scale": {"domain": [0, 50], "nice": false}, "axis": {"title": "Stiffness Coefficient (mN/mm)", "values": [0,10,20,30,40,50], "titlePadding": 17}}
   },
   "layer": [
    {"data": {"name": "lines"}, "transform": [{"filter": "datum.p === 'D'"}], "mark": {"type": "line", "color": "black"}, "encoding": {"strokeDash": {"field": "s", "type": "nominal", "scale": {"domain": ["c","d","q"], "range": [[1,0],[8,4],[2.5,6]]}, "legend": null}, "strokeWidth": {"field": "s", "type": "nominal", "scale": {"domain": ["c","d","q"], "range": [1.8,2.8,2.4]}, "legend": null}}},
    {"data": {"name": "pts"}, "transform": [{"filter": "datum.p === 'D' && datum.s === 'c'"}], "mark": {"type": "point", "shape": "circle", "filled": false, "strokeWidth": 2, "size": 100, "opacity": 1}, "encoding": {"color": {"field": "g", "type": "nominal", "scale": {"domain": ["M","C"], "range": ["#EE1C1C","#1C1CEE"]}, "legend": null}}},
    {"data": {"name": "pts"}, "transform": [{"filter": "datum.p === 'D' && datum.s === 'd'"}], "mark": {"type": "point", "shape": "diamond", "filled": true, "size": 100, "opacity": 1}, "encoding": {"color": {"field": "g", "type": "nominal", "scale": {"domain": ["M","C"], "range": ["#EE1C1C","#1C1CEE"]}, "legend": null}}},
    {"data": {"name": "pts"}, "transform": [{"filter": "datum.p === 'D' && datum.s === 'q'"}], "mark": {"type": "point", "shape": "square", "filled": false, "strokeWidth": 2, "size": 135, "opacity": 1}, "encoding": {"color": {"field": "g", "type": "nominal", "scale": {"domain": ["M","C"], "range": ["#EE1C1C","#1C1CEE"]}, "legend": null}}}
   ]}
 ]}
]},
{"spacing": 45, "hconcat": [
 {"spacing": 9, "vconcat": [
  {"width": 318, "height": 18, "view": {"stroke": null}, "title": {"text": "E", "dx": -67, "offset": -3},
   "data": {"name": "leg"}, "transform": [{"filter": "datum.p === 'E'"}],
   "encoding": {"x": {"field": "s", "type": "nominal", "scale": {"type": "band", "domain": ["c","d","q"], "range": [-115, 284], "paddingInner": 0, "paddingOuter": 0}, "axis": null}},
   "layer": [
    {"mark": {"type": "point", "shape": "M-1,0L1,0", "size": 900, "filled": false, "color": "black", "opacity": 1}, "encoding": {"strokeDash": {"field": "s", "type": "nominal", "scale": {"domain": ["c","d","q"], "range": [[1,0],[8,4],[2.5,6]]}, "legend": null}, "strokeWidth": {"field": "s", "type": "nominal", "scale": {"domain": ["c","d","q"], "range": [1.8,2.8,2.4]}, "legend": null}}},
    {"transform": [{"filter": "datum.s === 'c'"}], "mark": {"type": "point", "shape": "circle", "filled": false, "color": "#EE1C1C", "strokeWidth": 2, "size": 55, "opacity": 1}},
    {"transform": [{"filter": "datum.s === 'd'"}], "mark": {"type": "point", "shape": "diamond", "filled": true, "color": "#EE1C1C", "size": 80, "opacity": 1}},
    {"transform": [{"filter": "datum.s === 'q'"}], "mark": {"type": "point", "shape": "square", "filled": false, "color": "#EE1C1C", "strokeWidth": 2, "size": 60, "opacity": 1}},
    {"mark": {"type": "text", "align": "left", "dx": 28}, "encoding": {"text": {"field": "label"}}}
   ]},
  {"width": 318, "height": 317,
   "encoding": {
    "x": {"field": "x", "type": "quantitative", "scale": {"domain": [1, 1.7], "nice": false, "zero": false}, "axis": {"title": "Anterior Chamber Depth (mm)", "values": [1,1.02,1.04,1.06,1.08,1.1,1.12,1.14,1.16,1.18,1.2,1.22,1.24,1.26,1.28,1.3,1.32,1.34,1.36,1.38,1.4,1.42,1.44,1.46,1.48,1.5,1.52,1.54,1.56,1.58,1.6,1.62,1.64,1.66,1.68,1.7], "labelExpr": "abs(datum.value*5 - round(datum.value*5)) < 0.001 && datum.value < 1.65 ? format(datum.value, '.1f') : ''", "tickSize": {"condition": {"test": "abs(datum.value*5 - round(datum.value*5)) < 0.001 && datum.value < 1.65", "value": 7}, "value": -3}, "tickWidth": {"condition": {"test": "abs(datum.value*5 - round(datum.value*5)) < 0.001 && datum.value < 1.65", "value": 2}, "value": 1}}},
    "y": {"field": "y", "type": "quantitative", "scale": {"domain": [0, 0.6], "nice": false}, "axis": {"title": "Tangent Modulus  (MPa)", "values": [0,0.1,0.2,0.3,0.4,0.5,0.6], "format": ".1f", "titlePadding": 12}}
   },
   "layer": [
    {"data": {"name": "lines"}, "transform": [{"filter": "datum.p === 'E'"}], "mark": {"type": "line", "color": "black"}, "encoding": {"strokeDash": {"field": "s", "type": "nominal", "scale": {"domain": ["c","d","q"], "range": [[1,0],[8,4],[2.5,6]]}, "legend": null}, "strokeWidth": {"field": "s", "type": "nominal", "scale": {"domain": ["c","d","q"], "range": [1.8,2.8,2.4]}, "legend": null}}},
    {"data": {"name": "pts"}, "transform": [{"filter": "datum.p === 'E' && datum.s === 'c'"}], "mark": {"type": "point", "shape": "circle", "filled": false, "strokeWidth": 2, "size": 100, "opacity": 1}, "encoding": {"color": {"field": "g", "type": "nominal", "scale": {"domain": ["M","C"], "range": ["#EE1C1C","#1C1CEE"]}, "legend": null}}},
    {"data": {"name": "pts"}, "transform": [{"filter": "datum.p === 'E' && datum.s === 'd'"}], "mark": {"type": "point", "shape": "diamond", "filled": true, "size": 100, "opacity": 1}, "encoding": {"color": {"field": "g", "type": "nominal", "scale": {"domain": ["M","C"], "range": ["#EE1C1C","#1C1CEE"]}, "legend": null}}},
    {"data": {"name": "pts"}, "transform": [{"filter": "datum.p === 'E' && datum.s === 'q'"}], "mark": {"type": "point", "shape": "square", "filled": false, "strokeWidth": 2, "size": 135, "opacity": 1}, "encoding": {"color": {"field": "g", "type": "nominal", "scale": {"domain": ["M","C"], "range": ["#EE1C1C","#1C1CEE"]}, "legend": null}}}
   ]}
 ]},
 {"spacing": 9, "vconcat": [
  {"width": 318, "height": 18, "view": {"stroke": null}, "title": {"text": "F", "dx": -67, "offset": -3},
   "data": {"name": "leg"}, "transform": [{"filter": "datum.p === 'F'"}],
   "encoding": {"x": {"field": "s", "type": "nominal", "scale": {"type": "band", "domain": ["c","d","q"], "range": [-115, 284], "paddingInner": 0, "paddingOuter": 0}, "axis": null}},
   "layer": [
    {"mark": {"type": "point", "shape": "M-1,0L1,0", "size": 900, "filled": false, "color": "black", "opacity": 1}, "encoding": {"strokeDash": {"field": "s", "type": "nominal", "scale": {"domain": ["c","d","q"], "range": [[1,0],[8,4],[2.5,6]]}, "legend": null}, "strokeWidth": {"field": "s", "type": "nominal", "scale": {"domain": ["c","d","q"], "range": [1.8,2.8,2.4]}, "legend": null}}},
    {"transform": [{"filter": "datum.s === 'c'"}], "mark": {"type": "point", "shape": "circle", "filled": false, "color": "#EE1C1C", "strokeWidth": 2, "size": 55, "opacity": 1}},
    {"transform": [{"filter": "datum.s === 'd'"}], "mark": {"type": "point", "shape": "diamond", "filled": true, "color": "#EE1C1C", "size": 80, "opacity": 1}},
    {"transform": [{"filter": "datum.s === 'q'"}], "mark": {"type": "point", "shape": "square", "filled": false, "color": "#EE1C1C", "strokeWidth": 2, "size": 60, "opacity": 1}},
    {"mark": {"type": "text", "align": "left", "dx": 28}, "encoding": {"text": {"field": "label"}}}
   ]},
  {"width": 318, "height": 317,
   "encoding": {
    "x": {"field": "x", "type": "quantitative", "scale": {"domain": [1, 1.7], "nice": false, "zero": false}, "axis": {"title": "Anterior Chamber Depth (mm)", "values": [1,1.02,1.04,1.06,1.08,1.1,1.12,1.14,1.16,1.18,1.2,1.22,1.24,1.26,1.28,1.3,1.32,1.34,1.36,1.38,1.4,1.42,1.44,1.46,1.48,1.5,1.52,1.54,1.56,1.58,1.6,1.62,1.64,1.66,1.68,1.7], "labelExpr": "abs(datum.value*5 - round(datum.value*5)) < 0.001 && datum.value < 1.65 ? format(datum.value, '.1f') : ''", "tickSize": {"condition": {"test": "abs(datum.value*5 - round(datum.value*5)) < 0.001 && datum.value < 1.65", "value": 7}, "value": -3}, "tickWidth": {"condition": {"test": "abs(datum.value*5 - round(datum.value*5)) < 0.001 && datum.value < 1.65", "value": 2}, "value": 1}}},
    "y": {"field": "y", "type": "quantitative", "scale": {"domain": [0, 50], "nice": false}, "axis": {"title": "Stiffness Coefficient (mN/mm)", "values": [0,10,20,30,40,50], "titlePadding": 17}}
   },
   "layer": [
    {"data": {"name": "lines"}, "transform": [{"filter": "datum.p === 'F'"}], "mark": {"type": "line", "color": "black"}, "encoding": {"strokeDash": {"field": "s", "type": "nominal", "scale": {"domain": ["c","d","q"], "range": [[1,0],[8,4],[2.5,6]]}, "legend": null}, "strokeWidth": {"field": "s", "type": "nominal", "scale": {"domain": ["c","d","q"], "range": [1.8,2.8,2.4]}, "legend": null}}},
    {"data": {"name": "pts"}, "transform": [{"filter": "datum.p === 'F' && datum.s === 'c'"}], "mark": {"type": "point", "shape": "circle", "filled": false, "strokeWidth": 2, "size": 100, "opacity": 1}, "encoding": {"color": {"field": "g", "type": "nominal", "scale": {"domain": ["M","C"], "range": ["#EE1C1C","#1C1CEE"]}, "legend": null}}},
    {"data": {"name": "pts"}, "transform": [{"filter": "datum.p === 'F' && datum.s === 'd'"}], "mark": {"type": "point", "shape": "diamond", "filled": true, "size": 100, "opacity": 1}, "encoding": {"color": {"field": "g", "type": "nominal", "scale": {"domain": ["M","C"], "range": ["#EE1C1C","#1C1CEE"]}, "legend": null}}},
    {"data": {"name": "pts"}, "transform": [{"filter": "datum.p === 'F' && datum.s === 'q'"}], "mark": {"type": "point", "shape": "square", "filled": false, "strokeWidth": 2, "size": 135, "opacity": 1}, "encoding": {"color": {"field": "g", "type": "nominal", "scale": {"domain": ["M","C"], "range": ["#EE1C1C","#1C1CEE"]}, "legend": null}}}
   ]}
 ]}
]}
]
}
